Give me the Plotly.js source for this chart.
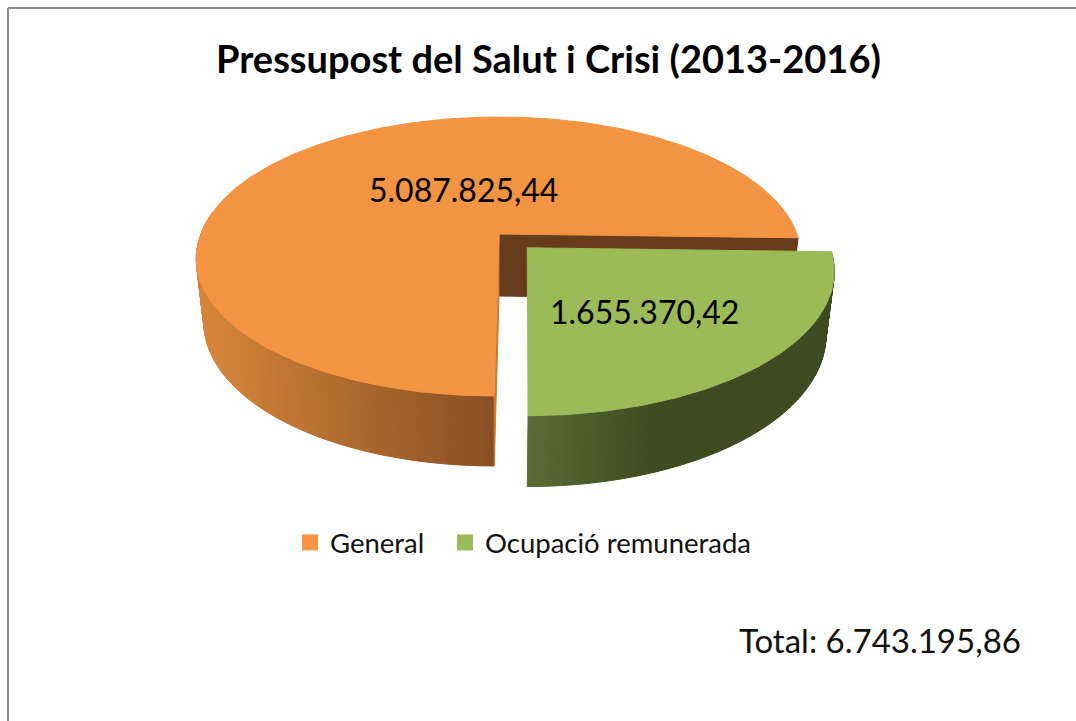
<!DOCTYPE html>
<html>
<head>
<meta charset="utf-8">
<script src="https://cdn.plot.ly/plotly-3.0.1.min.js"></script>
<style>html,body{margin:0;padding:0;background:#fff}</style>
</head>
<body>
<div id="chart" style="width:1076px;height:721px"></div>
<script>
// ---- data ----
const categories = ["General", "Ocupació remunerada"];
const values = [5087825.44, 1655370.42];
const valueLabels = ["5.087.825,44", "1.655.370,42"];
const titleText = "Pressupost del Salut i Crisi (2013-2016)";
const totalText = "Total: 6.743.195,86";

// ---- 3D-pie projection (unit disc -> axis coordinates) ----
const cx = 499, cy = 234, R = 298, A = 135.9, K = 0.161, H = 62, KLOW = 0.114;
const SKEW = 5, LOWSCALE = 0.975;
const startDeg = -1.6, explodeU = 0.095, explodeV = -0.1;
const FONT = "Lato, Carlito, sans-serif";
const orange = "#F39443", green = "#9BBB59", wall = "#673C1A";
const legendWidths = [110, 290];

function proj(u, v, low) {
  const w = 1 + K * v;
  let x = cx + R * u / w - SKEW * Math.max(0, -v);
  let y = cy - A * v / w;
  if (low) {
    x = cx + (x - cx) * LOWSCALE;
    y += H / (1 + KLOW * v);
  }
  return [x, y];
}
function rim(deg, ou, ov, low) {
  const t = deg * Math.PI / 180;
  return proj(ou + Math.cos(t), ov + Math.sin(t), low);
}
function mix(a, b, t) {
  return "rgb(" + a.map((c, i) => Math.round(c + (b[i] - c) * t)).join(",") + ")";
}
function poly(pts, color) {
  const closed = pts.concat([pts[0]]);
  return {
    type: "scatter", mode: "lines", fill: "toself", fillcolor: color,
    x: closed.map(p => p[0]), y: closed.map(p => p[1]),
    line: {color: color, width: 1}, hoverinfo: "skip", showlegend: false
  };
}
function arc(a0, a1, ou, ov, low) {
  const n = Math.ceil(Math.abs(a1 - a0)), out = [];
  for (let i = 0; i <= n; i++) out.push(rim(a0 + (a1 - a0) * i / n, ou, ov, low));
  return out;
}
function sideStrips(a0, a1, ou, ov, colorAt) {
  const n = Math.ceil(Math.abs(a1 - a0)), out = [];
  for (let i = 0; i < n; i++) {
    const p = a0 + (a1 - a0) * i / n, q = a0 + (a1 - a0) * (i + 1) / n;
    const mid = rim((p + q) / 2, ou, ov, false)[0];
    out.push(poly([rim(p, ou, ov, false), rim(q, ou, ov, false),
                   rim(q, ou, ov, true), rim(p, ou, ov, true)], colorAt(mid)));
  }
  return out;
}

const total = values[0] + values[1];
const orangeEnd = startDeg + 360 * values[0] / total;
const greenStart = startDeg - 360 * values[1] / total;

const traces = [];
// inner cut wall of the orange slice
traces.push(poly([proj(0, 0, false), rim(startDeg, 0, 0, false),
                  rim(startDeg, 0, 0, true), proj(0, 0, true)], wall));
// orange outer wall
traces.push(...sideStrips(170, orangeEnd, 0, 0, x => {
  const t = Math.min(1, Math.max(0, (x - 200) / 294));
  return mix([214, 134, 58], [136, 80, 35], t);
}));
// orange thin cut sliver
traces.push(poly([proj(0, 0, false), proj(0, 0, true), rim(orangeEnd, 0, 0, true),
                  rim(orangeEnd, 0, 0, false)], "#C97A35"));
// orange top
traces.push(poly([proj(0, 0, false), ...arc(startDeg, orangeEnd, 0, 0, false)], orange));
// green outer wall
traces.push(...sideStrips(greenStart, startDeg, explodeU, explodeV, x => {
  const t = Math.min(1, Math.max(0, (x - 527) / 130));
  return mix([92, 108, 52], [62, 74, 32], t);
}));
// green top
traces.push(poly([proj(explodeU, explodeV, false), ...arc(greenStart, startDeg, explodeU, explodeV, false)], green));
// legend entries
["#F79646", green].forEach((c, i) => traces.push({
  type: "scatter", mode: "markers", x: [null], y: [null], name: categories[i],
  marker: {symbol: "square", size: 16, color: c, line: {width: 0}},
  legendwidth: legendWidths[i],
  hoverinfo: "skip", showlegend: true
}));

const frame = {color: "#8c8c8c", width: 2};
const layout = {
  width: 1076, height: 721, margin: {l: 0, r: 0, t: 0, b: 0},
  paper_bgcolor: "#fff", plot_bgcolor: "#fff",
  xaxis: {range: [0, 1076], visible: false, fixedrange: true},
  yaxis: {range: [721, 0], visible: false, fixedrange: true},
  title: {text: ""},
  showlegend: true,
  legend: {orientation: "h", x: 0.2695, xanchor: "left", y: 0.2475, yanchor: "middle",
           font: {family: FONT, size: 27.5, color: "#111"}, bgcolor: "rgba(0,0,0,0)",
           itemsizing: "trace", traceorder: "normal"},
  shapes: [
    {type: "line", xref: "x", yref: "y", x0: 8, y0: 8, x1: 1076, y1: 8, line: frame},
    {type: "line", xref: "x", yref: "y", x0: 8, y0: 8, x1: 8, y1: 721, line: frame}
  ],
  annotations: [
    {xref: "x", yref: "y", x: 548.5, y: 58, text: "<b>" + titleText + "</b>", showarrow: false,
     font: {family: FONT, size: 38, color: "#000"}},
    {xref: "x", yref: "y", x: 463.5, y: 189, text: valueLabels[0], showarrow: false,
     font: {family: FONT, size: 32, color: "#000"}},
    {xref: "x", yref: "y", x: 644.5, y: 311, text: valueLabels[1], showarrow: false,
     font: {family: FONT, size: 32, color: "#000"}},
    {xref: "x", yref: "y", x: 879.5, y: 640, text: totalText, showarrow: false,
     font: {family: FONT, size: 33, color: "#111"}}
  ]
};
Plotly.newPlot("chart", traces, layout, {displayModeBar: false, staticPlot: true});
</script>
</body>
</html>
